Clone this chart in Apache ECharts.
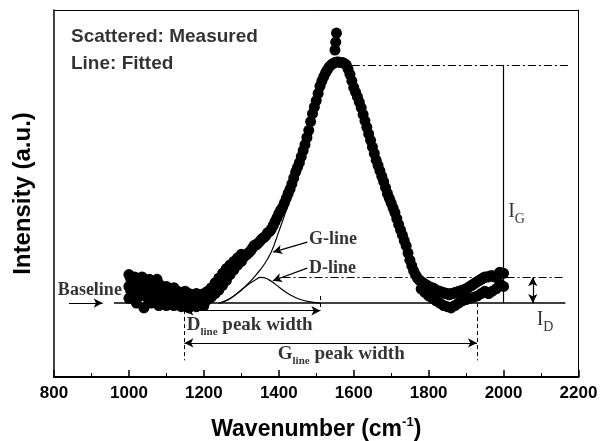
<!DOCTYPE html>
<html><head><meta charset="utf-8">
<script src="https://cdn.jsdelivr.net/npm/echarts@6/dist/echarts.min.js"></script>
<style>html,body{margin:0;padding:0;background:#fff}#c{width:612px;height:441px}</style>
</head><body><div id="c"></div>
<script>
// ---- data ----
const xRange = [800, 2200];
const xStep = 200;
const yRange = [-0.31, 1.23];

// measured points (wavenumber, intensity), a.u. with baseline = 0, fitted G peak = 1
const measuredWn = [
 1000,1000,1000,1005,1005,1010,1010,1015,1015,1020,1020,1020,1025,1030,1030,1035,1035,1040,1040,1040,1045,1050,1050,1055,1055,
 1060,1060,1060,1065,1070,1070,1075,1075,1080,1080,1080,1085,1090,1090,1095,1100,1100,1100,1105,1110,1110,1115,1120,1120,1120,
 1125,1130,1130,1135,1140,1140,1140,1145,1150,1150,1155,1160,1160,1160,1165,1170,1170,1175,1180,1180,1180,1185,1190,1190,1195,1200,1200,1200,
 1205,1210,1210,1215,1220,1220,1225,1230,1230,1235,1240,1240,1245,1250,1250,1255,1260,1260,1265,1270,1270,1275,1280,1280,1285,1290,1290,1295,1300,1300,
 1305,1310,1315,1320,1325,1330,1335,1340,1345,1350,1355,1360,1365,1370,1375,1380,1385,1390,1395,
 1400,1405,1410,1415,1420,1425,1430,1435,1440,1445,1450,1455,1460,1465,1470,1475,1480,1485,1490,1495,
 1500,1505,1510,1515,1520,1525,1530,1535,1540,1545,1550,1550,1552,1554,1555,1560,1565,1570,1575,1580,1585,1590,1595,
 1600,1605,1610,1615,1620,1625,1630,1635,1640,1645,1650,1655,1660,1665,1670,1675,1680,1685,1690,1695,
 1700,1705,1710,1715,1720,1725,1730,1735,1740,1745,1750,1755,1760,1765,1770,1775,1780,1780,1785,1790,1790,1795,
 1800,1800,1805,1810,1810,1815,1820,1820,1825,1830,1830,1835,1840,1840,1845,1850,1850,1855,1860,1860,1865,1870,1870,1875,1880,1880,1885,1890,1890,1895,
 1900,1900,1905,1910,1910,1915,1920,1920,1925,1930,1930,1935,1940,1940,1945,1950,1950,1955,1960,1960,1965,1970,1970,1975,1980,1980,1985,1990,1990,1995,
 2000,2000
];
const measuredInt = [
 0.12,0.07,0.02,0.10,0.05,0.09,0.04,0.11,0.06,0.10,0.05,0.0,0.07,0.08,0.03,0.11,0.06,0.09,0.04,-0.02,0.06,0.07,0.02,0.10,0.05,
 0.09,0.04,0.0,0.07,0.085,0.03,0.10,0.05,0.08,0.02,-0.01,0.06,0.07,0.02,0.05,0.07,0.035,-0.01,0.055,0.06,0.01,0.04,0.065,0.025,-0.01,
 0.045,0.05,0.01,0.03,0.045,0.0,-0.015,0.03,0.05,0.01,0.025,0.04,0.005,-0.02,0.02,0.035,0.0,0.02,0.04,0.005,-0.015,0.02,0.035,0.0,0.02,0.04,0.01,-0.01,
 0.03,0.05,0.015,0.035,0.065,0.025,0.05,0.085,0.04,0.07,0.105,0.055,0.085,0.125,0.075,0.10,0.145,0.095,0.12,0.16,0.12,0.14,0.175,0.14,0.16,0.19,0.16,0.175,0.205,0.175,
 0.19,0.198,0.205,0.212,0.22,0.232,0.243,0.245,0.252,0.26,0.27,0.275,0.282,0.295,0.30,0.31,0.325,0.342,0.358,
 0.375,0.39,0.402,0.42,0.44,0.46,0.478,0.50,0.525,0.55,0.57,0.59,0.615,0.64,0.665,0.695,0.725,0.762,0.795,0.823,
 0.85,0.88,0.91,0.932,0.95,0.967,0.98,0.992,1.0,1.006,1.01,1.062,1.095,1.133,1.012,1.012,1.01,1.01,1.005,1.0,0.982,0.96,0.933,
 0.905,0.885,0.865,0.843,0.82,0.792,0.765,0.738,0.71,0.683,0.655,0.628,0.60,0.578,0.555,0.532,0.51,0.485,0.46,0.44,
 0.42,0.40,0.38,0.355,0.33,0.307,0.285,0.262,0.24,0.21,0.18,0.157,0.135,0.12,0.105,0.097,0.09,0.06,0.085,0.08,0.045,0.075,
 0.07,0.03,0.065,0.065,0.02,0.06,0.055,0.01,0.05,0.05,0.0,0.045,0.045,-0.01,0.04,0.04,-0.015,0.035,0.04,-0.02,0.04,0.045,-0.01,0.045,0.05,0.0,0.05,0.055,0.01,0.055,
 0.06,0.015,0.065,0.07,0.02,0.075,0.08,0.025,0.085,0.09,0.03,0.095,0.10,0.04,0.105,0.11,0.05,0.11,0.11,0.04,0.115,0.115,0.05,0.11,0.11,0.06,0.12,0.13,0.08,0.125,
 0.125,0.07
];

const gLineWn  = [1240,1260,1280,1300,1320,1340,1360,1380,1400,1420,1440,1460,1480,1500,1520,1540,1560,1580,1600,1620,1640,1660,1680,1700,1720,1740,1760,1780,1800,1820,1840,1860];
const gLineInt = [0,0.01,0.03,0.055,0.085,0.12,0.16,0.215,0.30,0.39,0.50,0.60,0.71,0.84,0.935,0.99,1.0,0.99,0.91,0.81,0.71,0.61,0.51,0.41,0.32,0.23,0.14,0.08,0.04,0.017,0.006,0];

const dLineWn  = [1240,1260,1280,1300,1320,1340,1350,1360,1380,1400,1420,1440,1460,1480,1500,1510];
const dLineInt = [0,0.012,0.03,0.055,0.08,0.10,0.108,0.107,0.092,0.068,0.045,0.027,0.014,0.006,0.002,0];

const baselineWn = [960, 2165];
const baselineInt = [0, 0];

const igLevel = 1.0;      // fitted G peak height
const idLevel = 0.109;    // fitted D peak height
const dWidthEnds = [1148, 1511];
const gWidthEnds = [1148, 1929];

// ---- helpers ----
const zip = (a, b) => a.map((v, i) => [v, b[i]]);
const serif = 'Liberation Serif';
const sans = 'Liberation Sans';

const seg = (p, q, opts) => {
  opts = opts || {};
  return [
    Object.assign({coord: p, symbol: opts.s0 || 'none'}, opts.ls ? {lineStyle: opts.ls} : {}),
    {coord: q, symbol: opts.s1 || 'none'}
  ];
};
const dashDot = {type: [8, 3, 2, 3], width: 1, color: '#000'};
const dashed = {type: [4, 3], width: 1, color: '#000'};

const chart = echarts.init(document.getElementById('c'), null, {renderer: 'canvas'});

const subRich = {
  b: {fontFamily: serif, fontWeight: 'bold', fontSize: 19, lineHeight: 26, color: '#000'},
  s: {fontFamily: serif, fontWeight: 'bold', fontSize: 11, lineHeight: 26, verticalAlign: 'bottom', color: '#000'},
  i: {fontFamily: serif, fontSize: 20, lineHeight: 28, color: '#000'},
  g: {fontFamily: serif, fontSize: 14, lineHeight: 28, verticalAlign: 'bottom', color: '#000'}
};

function txt(x, y, formatter, style) {
  return {
    value: [x, y],
    label: Object.assign({show: true, position: 'right', distance: 0, formatter: formatter, color: '#000', rich: subRich}, style || {})
  };
}

const option = {
  animation: false,
  backgroundColor: '#fff',
  grid: {left: 54, right: 33.5, top: 10, bottom: 64, containLabel: false, outerBoundsMode: 'none'},
  xAxis: [{
    type: 'value', min: xRange[0], max: xRange[1], interval: xStep,
    axisLine: {onZero: false, lineStyle: {color: '#000', width: 2}},
    axisTick: {inside: true, length: 7, lineStyle: {color: '#000', width: 1.5}},
    minorTick: {show: true, splitNumber: 2, length: 4, lineStyle: {color: '#000', width: 1}},
    axisLabel: {margin: 8, color: '#000', fontSize: 17, fontWeight: 'bold', fontFamily: sans,
      showMinLabel: true, showMaxLabel: true, hideOverlap: false, formatter: v => String(v)},
    splitLine: {show: false},
    name: 'Wavenumber (cm{sup|-1})',
    nameLocation: 'middle', nameGap: 39,
    nameTextStyle: {color: '#000', fontSize: 23, fontWeight: 'bold', fontFamily: sans, lineHeight: 27,
      rich: {sup: {fontSize: 13, fontWeight: 'bold', fontFamily: sans, verticalAlign: 'top', lineHeight: 27, color: '#000'}}}
  }, {
    type: 'value', position: 'top', min: xRange[0], max: xRange[1],
    axisLine: {show: true, onZero: false, lineStyle: {color: '#000', width: 1}},
    axisTick: {show: false}, axisLabel: {show: false}, splitLine: {show: false}
  }],
  yAxis: [{
    type: 'value', min: yRange[0], max: yRange[1],
    axisLine: {show: true, onZero: false, lineStyle: {color: '#000', width: 1.5}},
    axisTick: {show: false}, axisLabel: {show: false}, splitLine: {show: false},
    name: 'Intensity (a.u.)', nameLocation: 'middle', nameGap: 19,
    nameTextStyle: {color: '#000', fontSize: 24, fontWeight: 'bold', fontFamily: sans}
  }, {
    type: 'value', position: 'right', min: yRange[0], max: yRange[1],
    axisLine: {show: true, onZero: false, lineStyle: {color: '#000', width: 1}},
    axisTick: {show: false}, axisLabel: {show: false}, splitLine: {show: false}
  }],
  series: [
    {
      name: 'Baseline', type: 'line', data: zip(baselineWn, baselineInt),
      showSymbol: false, symbol: 'none', lineStyle: {color: '#000', width: 1.5},
      markLine: {
        silent: true, symbolSize: [7, 9], label: {show: false},
        lineStyle: {color: '#000', width: 1.2, type: 'solid'},
        data: [
          seg([840, 0], [930, 0], {s1: 'arrow'}),
          seg([1476, 0.256], [1385, 0.214], {s1: 'arrow'}),
          seg([1476, 0.147], [1384, 0.094], {s1: 'arrow'}),
          seg([dWidthEnds[0], -0.032], [dWidthEnds[1], -0.032], {s0: 'arrow', s1: 'arrow'}),
          seg([gWidthEnds[0], -0.167], [gWidthEnds[1], -0.167], {s0: 'arrow', s1: 'arrow'}),
          seg([2078, idLevel], [2078, 0], {s0: 'arrow', s1: 'arrow'}),
          seg([1998, igLevel], [1998, 0], {}),
          seg([1595, igLevel], [2172, igLevel], {ls: dashDot}),
          seg([1410, idLevel], [2165, idLevel], {ls: dashDot}),
          seg([gWidthEnds[0], 0], [gWidthEnds[0], -0.24], {ls: dashed}),
          seg([gWidthEnds[1], 0], [gWidthEnds[1], -0.24], {ls: dashed}),
          seg([dWidthEnds[1], 0.03], [dWidthEnds[1], -0.03], {ls: dashed})
        ]
      },
      z: 2
    },
    {
      name: 'Measured', type: 'scatter', data: zip(measuredWn, measuredInt),
      symbol: 'circle', symbolSize: 11, itemStyle: {color: '#000', opacity: 1}, z: 3
    },
    {
      name: 'G-line', type: 'line', data: zip(gLineWn, gLineInt), smooth: 0.4,
      showSymbol: false, symbol: 'none', lineStyle: {color: '#000', width: 1.2}, z: 4
    },
    {
      name: 'D-line', type: 'line', data: zip(dLineWn, dLineInt), smooth: 0.4,
      showSymbol: false, symbol: 'none', lineStyle: {color: '#000', width: 1.2}, z: 4
    },
    {
      name: 'labels', type: 'scatter', symbolSize: 1, itemStyle: {color: 'rgba(0,0,0,0)'}, z: 5,
      data: [
        txt(844, 1.116, 'Scattered: Measured', {fontFamily: sans, fontWeight: 'bold', fontSize: 19}),
        txt(844, 1.003, 'Line: Fitted', {fontFamily: sans, fontWeight: 'bold', fontSize: 19}),
        txt(809, 0.055, 'Baseline', {fontFamily: serif, fontWeight: 'bold', fontSize: 18}),
        txt(1479, 0.269, 'G-line', {fontFamily: serif, fontWeight: 'bold', fontSize: 18}),
        txt(1479, 0.147, 'D-line', {fontFamily: serif, fontWeight: 'bold', fontSize: 18}),
        txt(2011, 0.382, '{i|I}{g|G}'),
        txt(2087, -0.071, '{i|I}{g|D}'),
        txt(1153, -0.092, '{b|D}{s|line}{b| peak width}'),
        txt(1396, -0.214, '{b|G}{s|line}{b| peak width}')
      ]
    }
  ]
};
chart.setOption(option);
</script>
</body></html>
